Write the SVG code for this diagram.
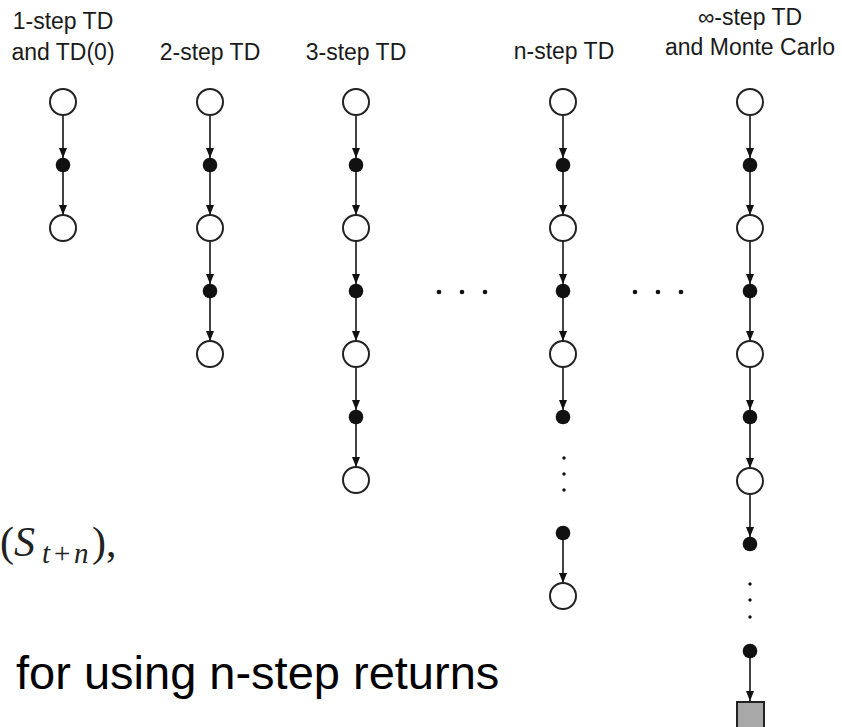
<svg xmlns="http://www.w3.org/2000/svg" width="842" height="727" viewBox="0 0 842 727">
  <style>
    .lbl { font-family: "Liberation Sans", Arial, sans-serif; font-size: 23px; fill: #1a1a1a; text-anchor: middle; }
    .state { fill: #ffffff; stroke: #222222; stroke-width: 2; }
    .action { fill: #111111; }
    .dot { fill: #111111; }
    .edge { stroke: #222222; stroke-width: 1.7; fill: none; marker-end: url(#arrow); }
    .term { fill: #a8a8a8; stroke: #222222; stroke-width: 2; }
    .math { font-family: "Liberation Serif", "Times New Roman", serif; fill: #222222; }
    .caption { font-family: "Liberation Sans", Arial, sans-serif; font-size: 47px; fill: #000000; }
  </style>
  <defs>
    <marker id="arrow" viewBox="0 0 10 8" refX="10" refY="4" markerWidth="10" markerHeight="8" markerUnits="userSpaceOnUse" orient="auto">
      <path d="M0,0 L10,4 L0,8 z" fill="#111111"/>
    </marker>
  </defs>
  <rect width="842" height="727" fill="#ffffff"/>

  <!-- column headings -->
  <g id="labels">
    <text class="lbl" x="63" y="29">1-step TD</text>
    <text class="lbl" x="63" y="60">and TD(0)</text>
    <text class="lbl" x="210" y="60">2-step TD</text>
    <text class="lbl" x="356" y="60">3-step TD</text>
    <text class="lbl" x="564" y="59">n-step TD</text>
    <text class="lbl" x="750" y="25">∞-step TD</text>
    <text class="lbl" x="750" y="55">and Monte Carlo</text>
  </g>

  <!-- connectors: state edge to action edge and back -->
  <g id="connectors">
    <!-- 1-step -->
    <line class="edge" x1="63" y1="115" x2="63" y2="158"/>
    <line class="edge" x1="63" y1="172" x2="63" y2="215"/>
    <!-- 2-step -->
    <line class="edge" x1="210" y1="115" x2="210" y2="158"/>
    <line class="edge" x1="210" y1="172" x2="210" y2="215"/>
    <line class="edge" x1="210" y1="241" x2="210" y2="284"/>
    <line class="edge" x1="210" y1="298" x2="210" y2="341"/>
    <!-- 3-step -->
    <line class="edge" x1="356" y1="115" x2="356" y2="158"/>
    <line class="edge" x1="356" y1="172" x2="356" y2="215"/>
    <line class="edge" x1="356" y1="241" x2="356" y2="284"/>
    <line class="edge" x1="356" y1="298" x2="356" y2="341"/>
    <line class="edge" x1="356" y1="367" x2="356" y2="410"/>
    <line class="edge" x1="356" y1="424" x2="356" y2="467"/>
    <!-- n-step -->
    <line class="edge" x1="563" y1="115" x2="563" y2="158"/>
    <line class="edge" x1="563" y1="172" x2="563" y2="215"/>
    <line class="edge" x1="563" y1="241" x2="563" y2="284"/>
    <line class="edge" x1="563" y1="298" x2="563" y2="341"/>
    <line class="edge" x1="563" y1="367" x2="563" y2="410"/>
    <line class="edge" x1="563" y1="540" x2="563" y2="583"/>
    <!-- infinity-step -->
    <line class="edge" x1="750" y1="115" x2="750" y2="158"/>
    <line class="edge" x1="750" y1="172" x2="750" y2="215"/>
    <line class="edge" x1="750" y1="241" x2="750" y2="284"/>
    <line class="edge" x1="750" y1="298" x2="750" y2="341"/>
    <line class="edge" x1="750" y1="367" x2="750" y2="410"/>
    <line class="edge" x1="750" y1="424" x2="750" y2="468"/>
    <line class="edge" x1="750" y1="494" x2="750" y2="537"/>
    <line class="edge" x1="750" y1="658" x2="750" y2="701"/>
  </g>

  <!-- 1-step TD backup -->
  <g id="col-1step">
    <circle class="state" cx="63" cy="102" r="13"/>
    <circle class="action" cx="63" cy="165" r="7.3"/>
    <circle class="state" cx="63" cy="228" r="13"/>
  </g>

  <!-- 2-step TD backup -->
  <g id="col-2step">
    <circle class="state" cx="210" cy="102" r="13"/>
    <circle class="action" cx="210" cy="165" r="7.3"/>
    <circle class="state" cx="210" cy="228" r="13"/>
    <circle class="action" cx="210" cy="291" r="7.3"/>
    <circle class="state" cx="210" cy="354" r="13"/>
  </g>

  <!-- 3-step TD backup -->
  <g id="col-3step">
    <circle class="state" cx="356" cy="102" r="13"/>
    <circle class="action" cx="356" cy="165" r="7.3"/>
    <circle class="state" cx="356" cy="228" r="13"/>
    <circle class="action" cx="356" cy="291" r="7.3"/>
    <circle class="state" cx="356" cy="354" r="13"/>
    <circle class="action" cx="356" cy="417" r="7.3"/>
    <circle class="state" cx="356" cy="480" r="13"/>
  </g>

  <!-- horizontal ellipses between columns -->
  <g id="hdots-1">
    <circle class="dot" cx="439" cy="292" r="2.3"/>
    <circle class="dot" cx="462" cy="292" r="2.3"/>
    <circle class="dot" cx="485" cy="292" r="2.3"/>
  </g>
  <g id="hdots-2">
    <circle class="dot" cx="635" cy="292" r="2.3"/>
    <circle class="dot" cx="658" cy="292" r="2.3"/>
    <circle class="dot" cx="681" cy="292" r="2.3"/>
  </g>

  <!-- n-step TD backup -->
  <g id="col-nstep">
    <circle class="state" cx="563" cy="102" r="13"/>
    <circle class="action" cx="563" cy="165" r="7.3"/>
    <circle class="state" cx="563" cy="228" r="13"/>
    <circle class="action" cx="563" cy="291" r="7.3"/>
    <circle class="state" cx="563" cy="354" r="13"/>
    <circle class="action" cx="563" cy="417" r="7.3"/>
    <circle class="dot" cx="564" cy="458" r="1.7"/>
    <circle class="dot" cx="564" cy="474" r="1.7"/>
    <circle class="dot" cx="564" cy="490" r="1.7"/>
    <circle class="action" cx="563" cy="533" r="7.3"/>
    <circle class="state" cx="563" cy="596" r="13"/>
  </g>

  <!-- infinity-step TD (Monte Carlo) backup -->
  <g id="col-mc">
    <circle class="state" cx="750" cy="102" r="13"/>
    <circle class="action" cx="750" cy="165" r="7.3"/>
    <circle class="state" cx="750" cy="228" r="13"/>
    <circle class="action" cx="750" cy="291" r="7.3"/>
    <circle class="state" cx="750" cy="354" r="13"/>
    <circle class="action" cx="750" cy="417" r="7.3"/>
    <circle class="state" cx="750" cy="481" r="13"/>
    <circle class="action" cx="750" cy="544" r="7.3"/>
    <circle class="dot" cx="750" cy="584" r="1.7"/>
    <circle class="dot" cx="750" cy="600" r="1.7"/>
    <circle class="dot" cx="750" cy="617" r="1.7"/>
    <circle class="action" cx="750" cy="651" r="7.3"/>
    <rect class="term" x="737" y="702" width="27" height="30"/>
  </g>

  <!-- trailing part of the n-step return formula -->
  <g id="formula">
    <text class="math" y="556" font-size="42"><tspan x="0">(</tspan><tspan x="14" font-style="italic">S</tspan></text>
    <text class="math" y="563" font-size="29"><tspan x="42" font-style="italic">t</tspan><tspan x="54">+</tspan><tspan x="74" font-style="italic">n</tspan></text>
    <text class="math" y="556" font-size="42"><tspan x="92">)</tspan><tspan x="106">,</tspan></text>
  </g>

  <!-- caption -->
  <g id="caption">
    <text class="caption" x="16" y="689">for using n-step returns</text>
  </g>
</svg>
